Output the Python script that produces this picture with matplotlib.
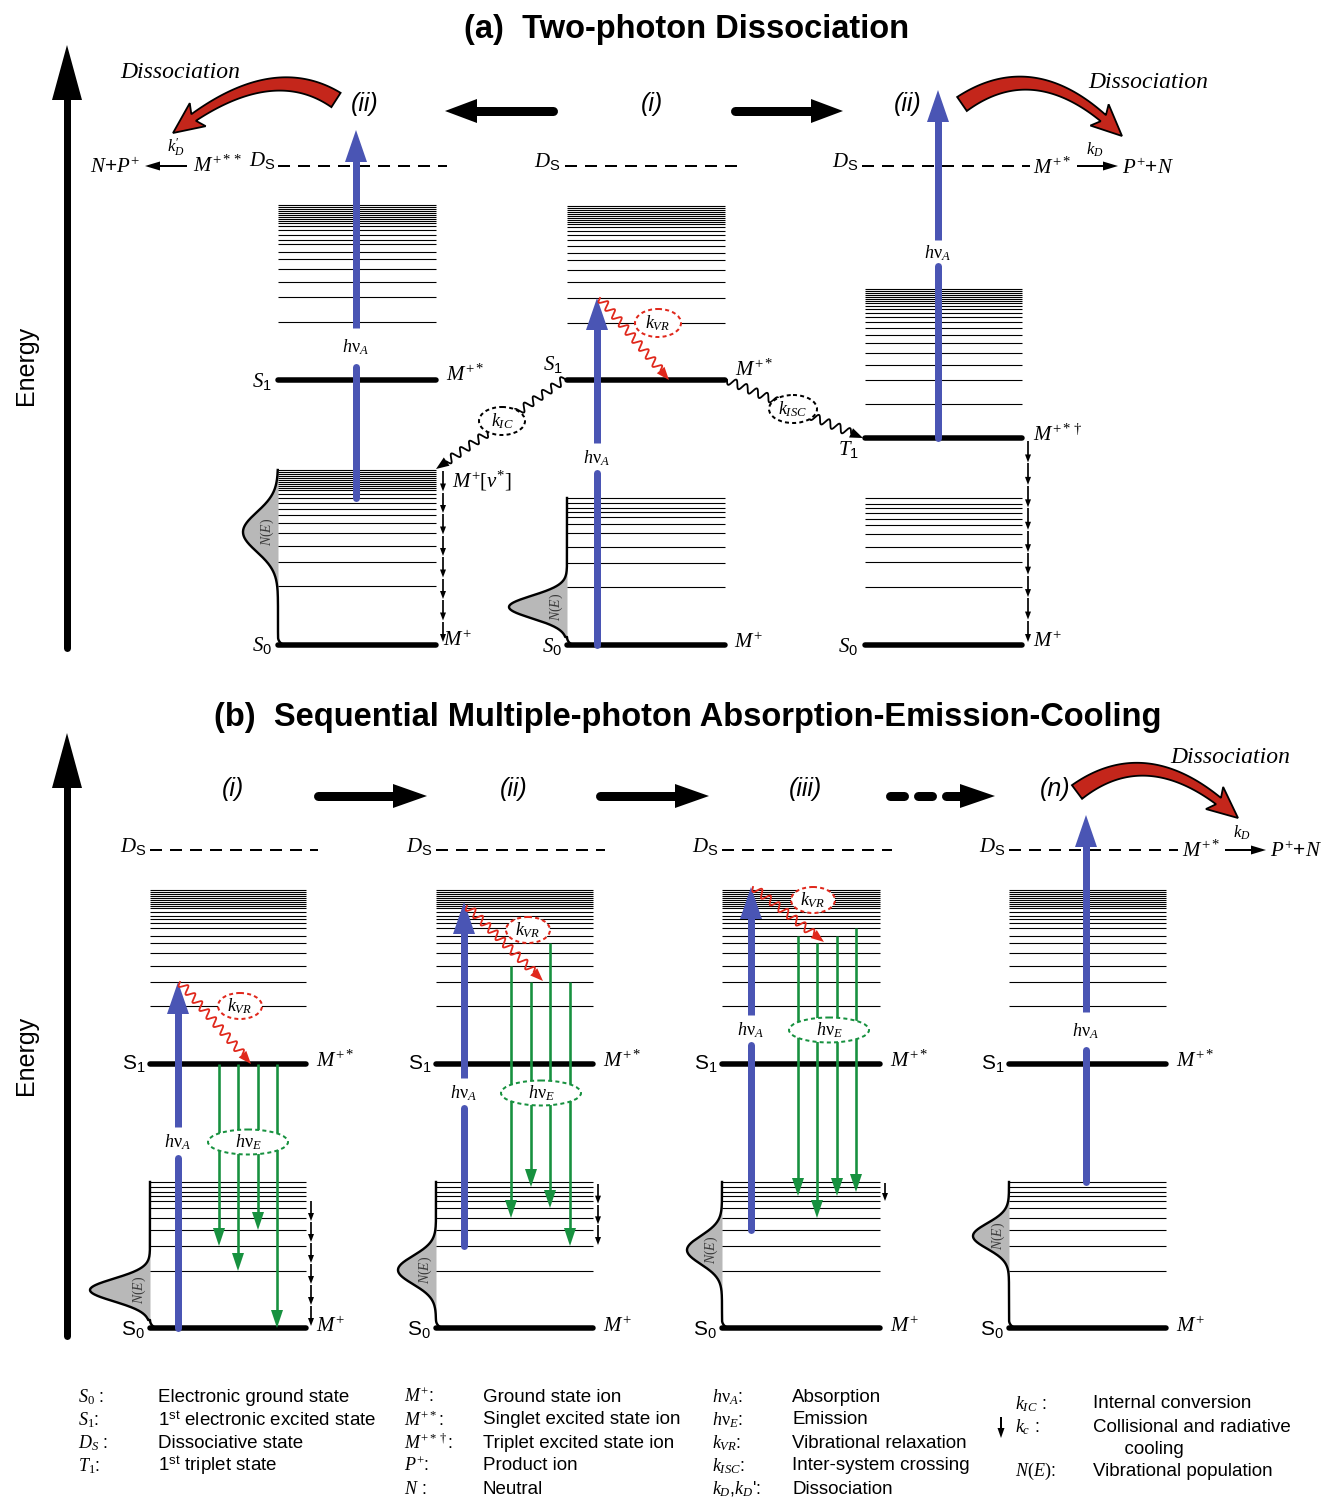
import numpy as np
import matplotlib.pyplot as plt
from matplotlib.patches import Polygon, Ellipse

plt.rcParams['font.family'] = ['Liberation Sans', 'DejaVu Sans']
plt.rcParams['mathtext.fontset'] = 'custom'
plt.rcParams['mathtext.it'] = 'Liberation Serif:italic'
plt.rcParams['mathtext.rm'] = 'Liberation Serif'
plt.rcParams['mathtext.sf'] = 'Liberation Sans'
plt.rcParams['mathtext.bf'] = 'Liberation Sans:bold'

BLUE = '#4a55b4'
GREEN = '#17913f'
RED = '#e0281c'
SWOOSH = '#c4261b'
GREY = '#b8b8b8'
P = 0.72  # points per pixel at dpi 100

# ---- energy levels (drawing rows, top = high energy) ----
a_ground, a_s1, a_t1, a_ds = 645, 380, 438, 166
b_ground, b_s1, b_ds = 1328, 1064, 850

a_upper_left = [205, 207, 209, 211, 213, 215, 217, 219, 221, 223, 226, 230, 235, 240, 244, 252, 259, 269, 282, 297, 322]
a_upper_mid = [206, 208, 210, 212, 214, 216, 218, 220, 222, 224, 227, 231, 235, 240, 246, 253, 260, 270, 282, 298, 323]
a_upper_right = [289, 291, 293, 295, 297, 299, 301, 303, 306, 309, 313, 317, 322, 328, 335, 343, 353, 365, 380, 404]
a_lower_left = [470, 472, 474, 476, 478, 480, 482, 484, 486, 488, 490, 494, 498, 503, 509, 515, 523, 533, 546, 562, 586]
a_lower_mid = [498, 503, 508, 512, 517, 524, 533, 547, 563, 587]
a_lower_right = [498, 504, 508, 513, 519, 525, 534, 547, 562, 587]
b_upper = [890, 892, 894, 896, 898, 900, 902, 904, 906, 908, 912, 916, 919, 923, 928, 936, 943, 953, 966, 982, 1006]
b_lower = [1182, 1187, 1192, 1196, 1201, 1208, 1218, 1230, 1246, 1271]

# absorption (start level, end level) per panel
a_absorb_from = [a_lower_left[12], a_ground, a_t1]
a_absorb_to = [130, a_upper_mid[-2], 90]
b_absorb_from = [b_ground, b_lower[8], b_lower[7], b_lower[0]]
b_absorb_to = [b_upper[-2], 902, 887, 815]

# emission arrows (start, end level) for b panels (i)-(iii)
b_emit_from = [[b_s1, b_s1, b_s1, b_s1],
               [b_upper[-3], b_upper[-2], b_upper[-5], b_upper[-2]],
               [b_upper[-6], b_upper[-5], b_upper[-6], b_upper[-7]]]
b_emit_to = [[b_lower[8], b_lower[9], b_lower[7], b_ground],
             [b_lower[6], b_lower[1], b_lower[5], b_lower[8]],
             [b_lower[3], b_lower[6], b_lower[3], b_lower[2]]]

step_labels_a = ['(ii)', '(i)', '(ii)']
step_labels_b = ['(i)', '(ii)', '(iii)', '(n)']

legend_sym = [[r'$S_{0}$ :', r'$S_{1}$:', r'$D_{S}$ :', r'$T_{1}$:'],
              [r'$M^{+}$:', r'$M^{+*}$:', r'$M^{+*\dagger}$:', r'$P^{+}$:', r'$N$ :'],
              [r'$h\mathrm{\nu}_{A}$:', r'$h\mathrm{\nu}_{E}$:', r'$k_{VR}$:', r'$k_{ISC}$:', r"$k_{D}$,$k_{D}$':"],
              [r'$k_{IC}$ :', r'$k_{c}$ :', '', r'$N(E)$:']]
legend_txt = [['Electronic ground state', r'1$^{\mathsf{st}}$ electronic excited state',
               'Dissociative state', r'1$^{\mathsf{st}}$ triplet state'],
              ['Ground state ion', 'Singlet excited state ion', 'Triplet excited state ion',
               'Product ion', 'Neutral'],
              ['Absorption', 'Emission', 'Vibrational relaxation', 'Inter-system crossing',
               'Dissociation'],
              ['Internal conversion', 'Collisional and radiative', '      cooling',
               'Vibrational population']]

fig = plt.figure(figsize=(13.25, 14.99), dpi=100)
ax = fig.add_axes([0, 0, 1, 1])
ax.set_xlim(0, 1325)
ax.set_ylim(1499, 0)
ax.axis('off')


def T(x, y, s, size, ha='center', **kw):
    ax.text(x, y, s, fontsize=size, ha=ha, va='center', zorder=9, **kw)


def arrow(x0, y0, x1, y1, color='k', w=2, hw=10, hl=12, z=4, cap='butt'):
    p0 = np.array([x0, y0], float)
    p1 = np.array([x1, y1], float)
    u = (p1 - p0) / np.hypot(*(p1 - p0))
    n = np.array([-u[1], u[0]])
    base = p1 - u * hl
    ax.plot([p0[0], base[0] + u[0] * 2], [p0[1], base[1] + u[1] * 2], color=color,
            lw=w * P, solid_capstyle=cap, zorder=z)
    ax.add_patch(Polygon([p1, base + n * hw / 2, base - n * hw / 2], closed=True,
                         fc=color, ec='none', zorder=z))


def wavy(x0, y0, x1, y1, color, amp=4, wl=11, hw=10, hl=13, z=5):
    p0 = np.array([x0, y0], float)
    p1 = np.array([x1, y1], float)
    L = np.hypot(*(p1 - p0))
    u = (p1 - p0) / L
    n = np.array([-u[1], u[0]])
    body = L - hl
    wl = body / round(body / wl)
    s = np.linspace(0, body, 600)
    pts = p0 + np.outer(s, u) + np.outer(amp * np.sin(2 * np.pi * s / wl), n)
    ax.plot(pts[:, 0], pts[:, 1], color=color, lw=1.8 * P, zorder=z)
    base = p1 - u * hl
    ax.add_patch(Polygon([p1, base + n * hw / 2, base - n * hw / 2], closed=True,
                         fc=color, ec='none', zorder=z))


def swoosh(p0, pc, p2, w0=17, w1=8, hw=28, hl=26):
    p0, pc, p2 = [np.array(p, float) for p in (p0, pc, p2)]
    t = np.linspace(0, 1, 500)[:, None]
    B = (1 - t) ** 2 * p0 + 2 * (1 - t) * t * pc + t ** 2 * p2
    seg = np.r_[0, np.cumsum(np.hypot(*np.diff(B, axis=0).T))]
    k = np.searchsorted(seg, seg[-1] - hl)
    Bb = B[:k + 1]
    tan = np.gradient(Bb, axis=0)
    tan /= np.hypot(tan[:, 0], tan[:, 1])[:, None]
    nrm = np.c_[-tan[:, 1], tan[:, 0]]
    w = np.linspace(w0, w1, len(Bb))[:, None]
    left = Bb + nrm * w / 2
    right = Bb - nrm * w / 2
    base = Bb[-1]
    nb = nrm[-1]
    tb = tan[-1]
    poly = np.vstack([left, base + nb * hw / 2 - tb * 5, p2, base - nb * hw / 2 - tb * 5, right[::-1]])
    ax.add_patch(Polygon(poly, closed=True, fc=SWOOSH, ec='k', lw=1.3, zorder=6))


def population(xe, ytop, ybot, depth, yc, sig):
    y = np.linspace(ytop, ybot - 8, 400)
    x = xe - depth * np.exp(-((y - yc) / sig) ** 2)
    ax.fill_betweenx(y, x, xe, color=GREY, lw=0, zorder=1)
    th = np.linspace(0, np.pi / 2, 20)
    xs = np.r_[x, xe + 8 * (1 - np.cos(th))]
    ys = np.r_[y, ybot - 8 + 8 * np.sin(th)]
    ax.plot(xs, ys, color='k', lw=2.4 * P, zorder=3)
    T(xe - 11, yc, r'$N(E)$', 10, rotation=90, color='#3a3a3a')


def thick(y, x0, x1):
    ax.plot([x0, x1], [y, y], color='k', lw=5.5 * P, solid_capstyle='round', zorder=3)


def dashed(y, x0, x1):
    ax.plot([x0, x1], [y, y], color='k', lw=2.0 * P, ls=(0, (6, 4)), zorder=2)


def manifold(levels, x0, x1):
    ax.hlines(levels, x0, x1, colors='k', lw=1.1 * P, zorder=2)


def cooling(x, y0, y1, n):
    st = (y1 - y0) / n
    for i in range(n):
        arrow(x, y0 + i * st + 1, x, y0 + (i + 1) * st, 'k', w=1.7, hw=6, hl=8, z=4)


def absorb(x, y0, y1, gap, label):
    g0, g1 = gap
    ax.plot([x, x], [y0, g1], color=BLUE, lw=7 * P, solid_capstyle='round', zorder=5)
    arrow(x, g0, x, y1, BLUE, w=7, hw=22, hl=32, z=5)
    T(x, (g0 + g1) / 2, label, 13)


def bubble(cx, cy, w, h, color, label, size=13):
    ax.add_patch(Ellipse((cx, cy), w, h, fc='white', ec=color, lw=2 * P,
                         ls=(0, (2, 1.6)), zorder=7))
    T(cx, cy, label, size)


hnuA = r'$h\mathrm{\nu}_{A}$'
Ds = r'$D_{\mathsf{S}}$'
Mps = r'$M^{+*}$'
Mp = r'$M^{+}$'

# ================= (a) =================
T(687, 29, '(a)  Two-photon Dissociation', 23.5, weight='bold')
arrow(67, 648, 67, 45, 'k', w=7, hw=30, hl=55, cap='round')
T(26, 365, 'Energy', 18, rotation=90)

# left panel
xl0, xl1 = 278, 436
dashed(a_ds, xl0, 447)
manifold(a_upper_left, xl0, xl1)
thick(a_s1, xl0, xl1)
manifold(a_lower_left, xl0, xl1)
thick(a_ground, xl0, xl1)
population(xl0, a_lower_left[0], a_ground, 35, 532, 28)
cooling(443, a_lower_left[0], a_ground - 3, 8)
absorb(356, a_absorb_from[0], a_absorb_to[0], (328, 367), hnuA)
T(275, 160, Ds, 15, ha='right')
T(193, 165, r'$M^{+**}$', 15, ha='left')
arrow(187, 166, 145, 166, 'k', w=2, hw=9, hl=15)
T(140, 167, r'$N$+$P^{+}$', 15, ha='right')
T(176, 148, r"$k_{D}^{\prime}$", 12)
T(272, 381, r'$S_{\mathsf{1}}$', 15, ha='right')
T(446, 374, Mps, 15, ha='left')
T(272, 645, r'$S_{\mathsf{0}}$', 15, ha='right')
T(443, 640, Mp, 15, ha='left')
T(452, 481, r'$M^{+}[v^{*}]$', 15, ha='left')

# middle panel
xm0, xm1 = 567, 725
dashed(a_ds, xm0 - 2, 737)
manifold(a_upper_mid, xm0, xm1)
thick(a_s1, xm0, xm1)
manifold(a_lower_mid, xm0, xm1)
thick(a_ground, xm0, xm1)
population(xm0, a_lower_mid[0], a_ground, 58, 607, 16)
absorb(597, a_absorb_from[1], a_absorb_to[1], (443, 473), hnuA)
wavy(600, a_absorb_to[1], 669, a_s1, RED)
bubble(658, 323, 46, 28, RED, r'$k_{VR}$')
wavy(565, a_s1 - 1, 436, a_lower_left[0] - 1, 'k')
bubble(502, 421, 46, 28, 'k', r'$k_{IC}$')
wavy(727, a_s1, 863, a_t1, 'k')
bubble(793, 409, 48, 28, 'k', r'$k_{ISC}$')
T(560, 161, Ds, 15, ha='right')
T(553, 364, r'$S_{\mathsf{1}}$', 15)
T(735, 369, Mps, 15, ha='left')
T(562, 646, r'$S_{\mathsf{0}}$', 15, ha='right')
T(734, 642, Mp, 15, ha='left')

# right panel
xr0, xr1 = 865, 1022
dashed(a_ds, xr0 - 3, 1030)
manifold(a_upper_right, xr0, xr1)
thick(a_t1, xr0, xr1)
manifold(a_lower_right, xr0, xr1)
thick(a_ground, xr0, xr1)
cooling(1028, a_t1 + 2, a_ground - 3, 9)
absorb(938, a_absorb_from[2], a_absorb_to[2], (240, 266), hnuA)
T(858, 161, Ds, 15, ha='right')
T(1033, 167, Mps, 15, ha='left')
arrow(1077, 166, 1118, 166, 'k', w=2, hw=9, hl=15)
T(1095, 150, r'$k_{D}$', 12)
T(1122, 168, r'$P^{+}$+$N$', 15, ha='left')
T(848, 449, r'$T_{\mathsf{1}}$', 15)
T(1033, 434, r'$M^{+*\dagger}$', 15, ha='left')
T(858, 646, r'$S_{\mathsf{0}}$', 15, ha='right')
T(1033, 641, Mp, 15, ha='left')

# step labels / arrows / dissociation swooshes
for x, s in zip([365, 652, 908], step_labels_a):
    T(x, 104, s, 18, style='italic')
arrow(553, 111, 445, 111, 'k', w=9, hw=24, hl=32, cap='round')
arrow(735, 111, 843, 111, 'k', w=9, hw=24, hl=32, cap='round')
swoosh((336, 100), (268, 56), (173, 133))
swoosh((962, 104), (1040, 50), (1122, 136))
T(180, 72, 'Dissociation', 17, family='Liberation Serif', style='italic')
T(1148, 82, 'Dissociation', 17, family='Liberation Serif', style='italic')

# ================= (b) =================
T(688, 717, '(b)  Sequential Multiple-photon Absorption-Emission-Cooling', 23.5, weight='bold')
arrow(67, 1336, 67, 733, 'k', w=7, hw=30, hl=55, cap='round')
T(26, 1055, 'Energy', 18, rotation=90)

b_x = [(150, 306), (436, 593), (722, 880), (1009, 1166)]
b_absorb_x = [178, 464, 751, 1086]
b_gap = [(1127, 1158), (1078, 1108), (1015, 1045), (1012, 1050)]
b_pop = [(60, 1290, 16), (38, 1270, 20), (35, 1250, 20), (36, 1236, 18)]
b_emit_x = [[219, 238, 258, 277], [511, 531, 550, 570], [798, 817, 837, 856]]
b_emit_bubble = [(248, 1142), (541, 1093), (829, 1030)]
b_vr = [((180, 982), (251, 1064), (240, 1006)),
        ((467, 906), (543, 981), (528, 930)),
        ((753, 887), (824, 942), (813, 900))]
b_cool = [(311, 1200, 1326, 6), (598, 1183, 1245, 3), (885, 1182, 1201, 1)]

for i, (x0, x1) in enumerate(b_x):
    dashed(b_ds, x0, x1 + 12)
    manifold(b_upper, x0, x1)
    thick(b_s1, x0, x1)
    manifold(b_lower, x0, x1)
    thick(b_ground, x0, x1)
    d, yc, sg = b_pop[i]
    population(x0, b_lower[0], b_ground, d, yc, sg)
    absorb(b_absorb_x[i], b_absorb_from[i], b_absorb_to[i], b_gap[i], hnuA)
    T(x0 - 4, b_ds - 4, Ds, 15, ha='right')
    T(x0 - 5, b_s1 - 1, r'S$_{\mathsf{1}}$', 15, ha='right')
    T(x0 - 5, b_ground + 2, r'S$_{\mathsf{0}}$', 15, ha='right')
    T(x1 + 10, b_s1 - 4, Mps, 15, ha='left')
    T(x1 + 10, b_ground - 2, Mp, 15, ha='left')

for i in range(3):
    for x, y0, y1 in zip(b_emit_x[i], b_emit_from[i], b_emit_to[i]):
        arrow(x, y0, x, y1, GREEN, w=2.6, hw=12, hl=18, z=5)
    bx, by = b_emit_bubble[i]
    bubble(bx, by, 80, 25, GREEN, r'$h\mathrm{\nu}_{E}$')
    (s0, s1, e) = b_vr[i]
    wavy(s0[0], s0[1], s1[0], s1[1], RED)
    bubble(e[0], e[1], 44, 26, RED, r'$k_{VR}$')
    cx, c0, c1, cn = b_cool[i]
    cooling(cx, c0, c1, cn)

T(1182, 850, Mps, 15, ha='left')
arrow(1225, 850, 1266, 850, 'k', w=2, hw=9, hl=15)
T(1242, 833, r'$k_{D}$', 12)
T(1270, 851, r'$P^{+}$+$N$', 15, ha='left')

for x, s in zip([233, 514, 805, 1055], step_labels_b):
    T(x, 789, s, 18, style='italic')
arrow(318, 796, 427, 796, 'k', w=9, hw=24, hl=34, cap='round')
arrow(600, 796, 709, 796, 'k', w=9, hw=24, hl=34, cap='round')
for d0, d1 in [(890, 904), (918, 932), (946, 960)]:
    ax.plot([d0, d1], [796, 796], color='k', lw=9 * P, solid_capstyle='round', zorder=4)
ax.add_patch(Polygon([(995, 796), (960, 784), (960, 808)], closed=True, fc='k', ec='none', zorder=4))
swoosh((1077, 792), (1152, 736), (1238, 818))
T(1230, 757, 'Dissociation', 17, family='Liberation Serif', style='italic')

# ================= legend =================
sym_x = [78, 404, 712, 1015]
txt_x = [158, 483, 792, 1093]
rows_y = [1397, 1420, 1443, 1466, 1489]
rows_y4 = [1404, 1427, 1449, 1471]
for c in range(4):
    ys = rows_y if c < 3 else rows_y4
    for y, s, t in zip(ys, legend_sym[c], legend_txt[c]):
        if s:
            T(sym_x[c], y, s, 13, ha='left')
        T(txt_x[c], y, t, 13.5, ha='left')
arrow(1001, 1417, 1001, 1438, 'k', w=2, hw=7, hl=10)

fig.savefig('out.png', dpi=100)
